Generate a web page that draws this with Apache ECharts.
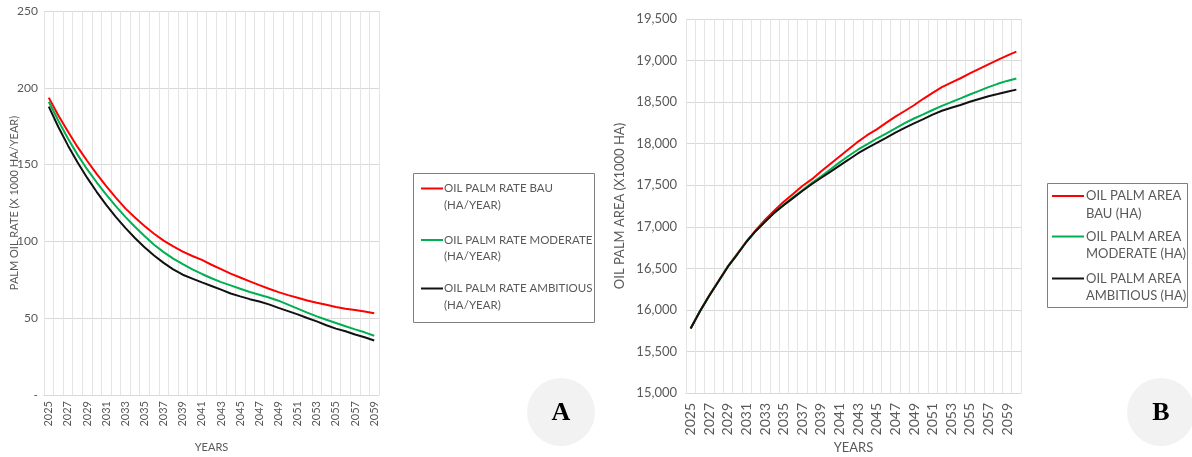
<!DOCTYPE html>
<html>
<head>
<meta charset="utf-8">
<script src="https://cdn.jsdelivr.net/npm/echarts@6/dist/echarts.min.js"></script>
<style>
  html, body { margin: 0; padding: 0; background: #ffffff; }
  #chart { width: 1192px; height: 457px; }
</style>
</head>
<body>
<div id="chart"></div>
<script>
// ---- Panel A: yearly oil palm expansion rate (x1000 ha / year) ----
const rateYears = [];
for (let y = 2025; y <= 2059; y++) rateYears.push(String(y));

const rateBau = [193.6, 182, 171.5, 161.5, 152.5, 144, 136, 128.5, 121.5, 115.5,
  110, 105, 100.5, 96.7, 93.3, 90.5, 88.0, 84.8, 81.9, 79.0,
  76.5, 74.0, 71.5, 69.2, 67.0, 65.0, 63.3, 61.5, 60.0, 58.7,
  57.3, 56.2, 55.3, 54.3, 53.2];
const rateModerate = [190.9, 178.5, 167, 156.5, 147, 138.5, 130.5, 123, 116, 109.5,
  103.5, 97.8, 93, 88.8, 85.2, 81.8, 78.8, 76.0, 73.5, 71.4,
  69.2, 67.1, 65.3, 63.5, 61.4, 58.8, 56.2, 53.6, 51.2, 49.0,
  46.9, 44.8, 42.7, 40.8, 38.6];
const rateAmbitious = [187.7, 174.5, 162.5, 151.5, 141.5, 132.3, 123.8, 116, 108.8, 102.2,
  96.2, 90.8, 86, 81.8, 78.3, 75.8, 73.3, 71.0, 68.6, 66.1,
  64.2, 62.4, 60.9, 59.0, 56.7, 54.6, 52.5, 50.1, 47.9, 45.4,
  43.2, 41.5, 39.4, 37.6, 35.5];

// ---- Panel B: total oil palm area (x1000 ha) ----
const areaYears = [];
for (let y = 2025; y <= 2060; y++) areaYears.push(String(y));

const areaBau = [15775, 15985, 16175, 16350, 16525, 16675, 16825, 16960, 17085, 17195,
  17300, 17395, 17490, 17570, 17665, 17755, 17845, 17935, 18025, 18105,
  18172, 18250, 18325, 18393, 18462, 18540, 18612, 18680, 18735, 18787,
  18845, 18900, 18955, 19008, 19060, 19108];
const areaModerate = [15775, 15983, 16170, 16344, 16520, 16668, 16820, 16950, 17065, 17170,
  17265, 17355, 17440, 17525, 17605, 17690, 17775, 17855, 17930, 17995,
  18062, 18122, 18183, 18246, 18303, 18352, 18405, 18455, 18500, 18545,
  18592, 18635, 18680, 18720, 18755, 18785];
const areaAmbitious = [15775, 15983, 16170, 16344, 16520, 16666, 16820, 16950, 17060, 17170,
  17260, 17345, 17430, 17512, 17587, 17661, 17736, 17810, 17885, 17950,
  18010, 18070, 18133, 18190, 18245, 18296, 18350, 18396, 18432, 18465,
  18505, 18538, 18570, 18597, 18625, 18650];

const rateLegend = [
  ['OIL PALM RATE BAU', '(HA/YEAR)'],
  ['OIL PALM RATE MODERATE', '(HA/YEAR)'],
  ['OIL PALM RATE AMBITIOUS', '(HA/YEAR)']
];
const areaLegend = [
  ['OIL PALM AREA', 'BAU (HA)'],
  ['OIL PALM AREA', 'MODERATE (HA)'],
  ['OIL PALM AREA', 'AMBITIOUS (HA)']
];
const scenarioColors = ['#ff0000', '#00b050', '#111111'];

const FONT = 'Lato, "Open Sans", sans-serif';
const TXT = '#595959';
const GRID_LINE = '#d9d9d9';

function lineSeries(name, data, color, xi, yi) {
  return {
    type: 'line', name: name, data: data,
    xAxisIndex: xi, yAxisIndex: yi,
    symbol: 'none', smooth: false,
    lineStyle: { color: color, width: 2 },
    itemStyle: { color: color }
  };
}

function legendBox(box, items, lineX1, lineX2, textX, rows, fontSize) {
  const els = [{
    type: 'rect',
    shape: { x: box[0] + 0.5, y: box[1] + 0.5, width: box[2], height: box[3] },
    style: { fill: '#ffffff', stroke: '#7f7f7f', lineWidth: 1 }
  }];
  items.forEach((lines, i) => {
    const r = rows[i];
    els.push({
      type: 'line',
      shape: { x1: lineX1, y1: r[0], x2: lineX2, y2: r[0] },
      style: { stroke: scenarioColors[i], lineWidth: 2 }
    });
    lines.forEach((t, j) => {
      els.push({
        type: 'text', x: textX, y: r[j],
        style: { text: t, fill: TXT, font: fontSize + 'px ' + FONT, verticalAlign: 'middle', align: 'left' }
      });
    });
  });
  return els;
}

function badge(cx, cy, letter) {
  return [
    { type: 'circle', shape: { cx: cx, cy: cy, r: 34 }, style: { fill: '#f2f2f2' } },
    { type: 'text', x: cx, y: cy + 1,
      style: { text: letter, fill: '#000000', font: 'bold 26px "Liberation Serif", "DejaVu Serif", serif',
               align: 'center', verticalAlign: 'middle' } }
  ];
}

const chart = echarts.init(document.getElementById('chart'), null, { renderer: 'canvas' });

chart.setOption({
  animation: false,
  backgroundColor: '#ffffff',
  grid: [
    { left: 44, top: 11, width: 335, height: 384, containLabel: false, outerBoundsMode: 'none' },
    { left: 686, top: 19, width: 335, height: 374, containLabel: false, outerBoundsMode: 'none' }
  ],
  xAxis: [
    {
      gridIndex: 0, type: 'category', data: rateYears, boundaryGap: true,
      axisLine: { show: true, lineStyle: { color: GRID_LINE } },
      axisTick: { show: false, interval: 0 },
      axisLabel: { interval: 1, rotate: 90, color: TXT, fontSize: 11, fontFamily: FONT, margin: 6 },
      splitLine: { show: true, interval: 0, lineStyle: { color: '#e4e4e4', width: 1 } },
      name: 'YEARS', nameLocation: 'middle', nameGap: 47, nameMoveOverlap: false,
      nameTextStyle: { color: TXT, fontSize: 11, fontFamily: FONT }
    },
    {
      gridIndex: 1, type: 'category', data: areaYears, boundaryGap: true,
      axisLine: { show: true, lineStyle: { color: GRID_LINE } },
      axisTick: { show: false, interval: 0 },
      axisLabel: { interval: 1, rotate: 90, color: TXT, fontSize: 14, fontFamily: FONT, margin: 10 },
      splitLine: { show: true, interval: 0, lineStyle: { color: '#e4e4e4', width: 1 } },
      name: 'YEARS', nameLocation: 'middle', nameGap: 48, nameMoveOverlap: false,
      nameTextStyle: { color: TXT, fontSize: 13, fontFamily: FONT }
    }
  ],
  yAxis: [
    {
      gridIndex: 0, type: 'value', min: 0, max: 250, interval: 50,
      axisLine: { show: false }, axisTick: { show: false },
      axisLabel: { color: TXT, fontSize: 12, fontFamily: FONT, margin: 6,
                   formatter: v => (v === 0 ? '-' : String(v)) },
      splitLine: { show: true, lineStyle: { color: GRID_LINE, width: 1 } },
      name: 'PALM OIL RATE (X 1000 HA/YEAR)', nameLocation: 'middle', nameGap: 24, nameMoveOverlap: false,
      nameTextStyle: { color: TXT, fontSize: 11, fontFamily: FONT }
    },
    {
      gridIndex: 1, type: 'value', min: 15000, max: 19500, interval: 500,
      axisLine: { show: false }, axisTick: { show: false },
      axisLabel: { color: TXT, fontSize: 13, fontFamily: FONT, margin: 9,
                   formatter: v => v.toLocaleString('en-US') },
      splitLine: { show: true, lineStyle: { color: GRID_LINE, width: 1 } },
      name: 'OIL PALM AREA (X1000 HA)', nameLocation: 'middle', nameGap: 60, nameMoveOverlap: false,
      nameTextStyle: { color: TXT, fontSize: 13, fontFamily: FONT }
    }
  ],
  series: [
    lineSeries('OIL PALM RATE BAU (HA/YEAR)', rateBau, scenarioColors[0], 0, 0),
    lineSeries('OIL PALM RATE MODERATE (HA/YEAR)', rateModerate, scenarioColors[1], 0, 0),
    lineSeries('OIL PALM RATE AMBITIOUS (HA/YEAR)', rateAmbitious, scenarioColors[2], 0, 0),
    lineSeries('OIL PALM AREA BAU (HA)', areaBau, scenarioColors[0], 1, 1),
    lineSeries('OIL PALM AREA MODERATE (HA)', areaModerate, scenarioColors[1], 1, 1),
    lineSeries('OIL PALM AREA AMBITIOUS (HA)', areaAmbitious, scenarioColors[2], 1, 1)
  ],
  graphic: [].concat(
    legendBox([413, 173, 181, 149], rateLegend, 421, 443, 444,
              [[188.5, 205], [240, 256], [288.5, 305]], 11.5),
    legendBox([1047, 183, 140, 124], areaLegend, 1052, 1084, 1086,
              [[196, 213.5], [236.5, 254], [278.5, 296]], 13),
    badge(561, 412, 'A'),
    badge(1161, 412, 'B')
  )
});
</script>
</body>
</html>
